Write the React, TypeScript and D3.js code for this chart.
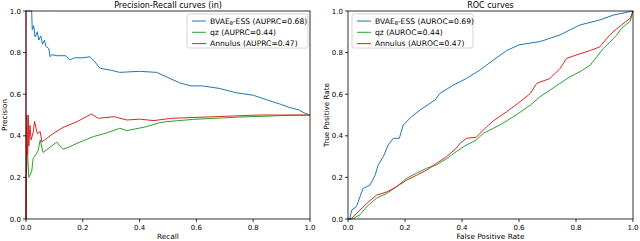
import React from "react";
import * as d3 from "d3";

// Precision-Recall curves: [recall, precision]
const prBvae: [number, number][] = [
  [0, 1], [0.02, 1], [0.022, 0.91], [0.027, 0.93], [0.032, 0.875], [0.04, 0.9], [0.045, 0.86],
  [0.052, 0.88], [0.058, 0.84], [0.065, 0.86], [0.07, 0.83], [0.08, 0.82], [0.085, 0.78],
  [0.09, 0.79], [0.11, 0.785], [0.14, 0.785], [0.155, 0.765], [0.17, 0.775], [0.2, 0.775],
  [0.225, 0.78], [0.24, 0.76], [0.26, 0.725], [0.3, 0.715], [0.33, 0.705], [0.4, 0.71],
  [0.46, 0.705], [0.5, 0.68], [0.54, 0.655], [0.58, 0.64], [0.62, 0.64], [0.68, 0.628],
  [0.74, 0.607], [0.8, 0.595], [0.85, 0.572], [0.9, 0.55], [0.93, 0.535], [0.96, 0.525],
  [0.98, 0.51], [1.0, 0.5],
];
const prQz: [number, number][] = [
  [0, 0], [0.001, 0.2], [0.005, 0.33], [0.01, 0.2], [0.02, 0.227], [0.025, 0.29], [0.035, 0.31],
  [0.043, 0.33], [0.05, 0.38], [0.06, 0.32], [0.08, 0.34], [0.095, 0.356], [0.108, 0.37],
  [0.13, 0.335], [0.15, 0.345], [0.18, 0.364], [0.237, 0.396], [0.28, 0.412], [0.33, 0.436],
  [0.355, 0.425], [0.425, 0.444], [0.47, 0.463], [0.495, 0.468], [0.59, 0.479], [0.75, 0.49],
  [0.9, 0.497], [1.0, 0.5],
];
const prAnnulus: [number, number][] = [
  [0, 1], [0, 0], [0.003, 0.5], [0.006, 0.31], [0.008, 0.5], [0.01, 0.35], [0.014, 0.45],
  [0.018, 0.38], [0.026, 0.42], [0.03, 0.47], [0.04, 0.41], [0.05, 0.42], [0.056, 0.37],
  [0.075, 0.39], [0.095, 0.41], [0.13, 0.44], [0.18, 0.468], [0.23, 0.505], [0.255, 0.484],
  [0.31, 0.492], [0.355, 0.476], [0.4, 0.48], [0.45, 0.473], [0.51, 0.484], [0.61, 0.489],
  [0.82, 0.5], [1.0, 0.5],
];

// ROC curves: [false positive rate, true positive rate]
const rocBvae: [number, number][] = [
  [0, 0], [0.007, 0.005], [0.013, 0.043], [0.03, 0.06], [0.042, 0.107], [0.053, 0.147],
  [0.077, 0.163], [0.095, 0.21], [0.106, 0.26], [0.124, 0.3], [0.141, 0.356], [0.159, 0.388],
  [0.18, 0.388], [0.194, 0.452], [0.223, 0.492], [0.253, 0.524], [0.305, 0.572], [0.323, 0.604],
  [0.37, 0.644], [0.416, 0.676], [0.463, 0.716], [0.51, 0.764], [0.557, 0.81], [0.6, 0.837],
  [0.674, 0.853], [0.744, 0.885], [0.814, 0.933], [0.884, 0.957], [0.93, 0.98], [1.0, 1.0],
];
const rocQz: [number, number][] = [
  [0, 0], [0.015, 0], [0.042, 0.02], [0.066, 0.06], [0.1, 0.1], [0.136, 0.123], [0.17, 0.155],
  [0.206, 0.196], [0.24, 0.22], [0.276, 0.244], [0.31, 0.26], [0.346, 0.29], [0.38, 0.324],
  [0.416, 0.356], [0.45, 0.38], [0.475, 0.412], [0.533, 0.452], [0.59, 0.5], [0.64, 0.548],
  [0.674, 0.588], [0.709, 0.62], [0.744, 0.652], [0.779, 0.684], [0.814, 0.708], [0.85, 0.74],
  [0.873, 0.78], [0.896, 0.82], [0.92, 0.852], [0.943, 0.885], [0.96, 0.917], [0.99, 0.95],
  [1.0, 1.0],
];
const rocAnnulus: [number, number][] = [
  [0, 0], [0.01, 0], [0.042, 0.043], [0.066, 0.075], [0.1, 0.115], [0.136, 0.13], [0.17, 0.155],
  [0.206, 0.187], [0.24, 0.21], [0.276, 0.235], [0.31, 0.267], [0.346, 0.3], [0.38, 0.34],
  [0.393, 0.364], [0.416, 0.388], [0.45, 0.393], [0.487, 0.444], [0.51, 0.472], [0.557, 0.516],
  [0.604, 0.564], [0.64, 0.604], [0.662, 0.652], [0.709, 0.676], [0.744, 0.724], [0.767, 0.772],
  [0.8, 0.788], [0.85, 0.81], [0.884, 0.828], [0.908, 0.868], [0.93, 0.9], [0.96, 0.933],
  [0.99, 0.965], [1.0, 1.0],
];

const ticks = [0, 0.2, 0.4, 0.6, 0.8, 1.0];
const prLabels = ["(AUPRC=0.68)", "qz (AUPRC=0.44)", "Annulus (AUPRC=0.47)"];
const rocLabels = ["(AUROC=0.69)", "qz (AUROC=0.44)", "Annulus (AUROC=0.47)"];
const colors = ["#1f77b4", "#2ca02c", "#d62728"];

const FONT = "DejaVu Sans, sans-serif";

type PanelProps = {
  x0: number;
  x1: number;
  title: string;
  xLabel: string;
  yLabel: string;
  series: [number, number][][];
  labels: string[];
  legendX: number;
  legendW: number;
};

const Panel = ({ x0, x1, title, xLabel, yLabel, series, labels, legendX, legendW }: PanelProps) => {
  const top = 11;
  const bottom = 219;
  const x = d3.scaleLinear().domain([0, 1]).range([x0, x1]);
  const y = d3.scaleLinear().domain([0, 1]).range([bottom, top]);
  const line = d3.line<[number, number]>().x((d) => x(d[0])).y((d) => y(d[1]));
  const lx = legendX;
  const ly = top + 3;
  return (
    <g>
      {series.map((s, i) => (
        <path key={i} d={line(s) || ""} fill="none" stroke={colors[i]} strokeWidth={1} />
      ))}
      <rect x={x0} y={top} width={x1 - x0} height={bottom - top} fill="none" stroke="#000" strokeWidth={0.8} />
      {ticks.map((t) => (
        <g key={"x" + t}>
          <line x1={x(t)} x2={x(t)} y1={bottom} y2={bottom + 3} stroke="#000" strokeWidth={0.8} />
          <text x={x(t)} y={bottom + 11} fontSize={7} textAnchor="middle" fontFamily={FONT}>{d3.format(".1f")(t)}</text>
        </g>
      ))}
      {ticks.map((t) => (
        <g key={"y" + t}>
          <line x1={x0 - 3} x2={x0} y1={y(t)} y2={y(t)} stroke="#000" strokeWidth={0.8} />
          <text x={x0 - 5} y={y(t) + 2.5} fontSize={7} textAnchor="end" fontFamily={FONT}>{d3.format(".1f")(t)}</text>
        </g>
      ))}
      <text x={(x0 + x1) / 2} y={8} fontSize={8} textAnchor="middle" fontFamily={FONT}>{title}</text>
      <text x={(x0 + x1) / 2} y={239} fontSize={7.3} textAnchor="middle" fontFamily={FONT}>{xLabel}</text>
      <text transform={`translate(${x0 - 19.5},${(top + bottom) / 2}) rotate(-90)`} fontSize={7.2} textAnchor="middle" fontFamily={FONT}>{yLabel}</text>
      <rect x={lx} y={ly} width={legendW} height={34} rx={2} fill="#fff" fillOpacity={0.8} stroke="#ccc" strokeWidth={0.8} />
      {labels.map((lab, i) => (
        <g key={lab}>
          <line x1={lx + 5} x2={lx + 19} y1={ly + 7 + i * 11.3} y2={ly + 7 + i * 11.3} stroke={colors[i]} strokeWidth={1} />
          <text x={lx + 23} y={ly + 9.6 + i * 11.3} fontSize={7.6} fontFamily={FONT}>
            {i === 0 ? (
              <>
                <tspan>BVAE</tspan>
                <tspan fontSize={5.2} dy={1.5}>θ</tspan>
                <tspan dy={-1.5}>-ESS {lab}</tspan>
              </>
            ) : (
              lab
            )}
          </text>
        </g>
      ))}
    </g>
  );
};

export default function App() {
  return (
    <div style={{ position: "absolute", left: 0, top: 0 }}>
      <svg width={640} height={241} style={{ display: "block", background: "#fff" }}>
        <Panel x0={26} x1={310} title="Precision-Recall curves (in)" xLabel="Recall" yLabel="Precision"
          series={[prBvae, prQz, prAnnulus]} labels={prLabels} legendX={187} legendW={121} />
        <Panel x0={348} x1={633} title="ROC curves" xLabel="False Positive Rate" yLabel="True Positive Rate"
          series={[rocBvae, rocQz, rocAnnulus]} labels={rocLabels} legendX={352} legendW={121} />
      </svg>
    </div>
  );
}
